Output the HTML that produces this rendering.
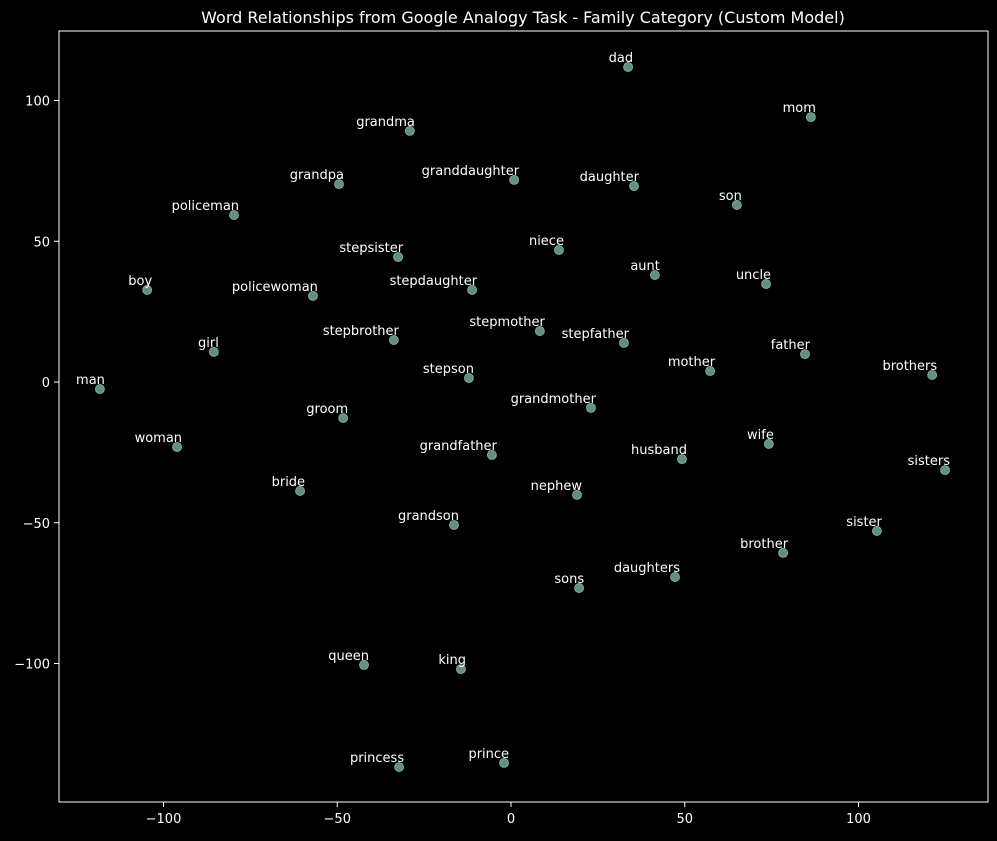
<!DOCTYPE html>
<html><head><meta charset="utf-8"><style>
html,body{margin:0;padding:0;background:#000;}
svg text{font-family:"DejaVu Sans","Liberation Sans",sans-serif;}
</style></head><body>
<svg id="chart" width="997" height="836" xmlns="http://www.w3.org/2000/svg">
<rect width="997" height="836" fill="#000"/>
<text x="523" y="23" fill="#fff" font-size="16" text-anchor="middle">Word Relationships from Google Analogy Task - Family Category (Custom Model)</text>
<g id="axes"></g>
<g id="points"></g>
<rect x="59" y="31" width="929" height="771" fill="none" stroke="#fff" stroke-width="1"/>
</svg>
<script>
const words=["dad","mom","grandma","grandpa","granddaughter","daughter","son","policeman","stepsister","niece","aunt","uncle","boy","policewoman","stepdaughter","stepmother","stepbrother","stepfather","father","girl","mother","brothers","stepson","man","grandmother","groom","wife","woman","grandfather","husband","sisters","bride","nephew","grandson","sister","brother","daughters","sons","queen","king","princess","prince"];
const xVals=[33.7,86.3,-29.1,-49.5,0.9,35.4,65.0,-79.7,-32.5,13.8,41.4,73.4,-104.7,-57.0,-11.2,8.3,-33.7,32.5,84.6,-85.5,57.3,121.2,-12.1,-118.3,23.0,-48.3,74.2,-96.1,-5.5,49.2,124.9,-60.7,19.0,-16.4,105.3,78.3,47.2,19.6,-42.3,-14.4,-32.2,-2.0];
const yVals=[111.9,94.1,89.2,70.3,71.8,69.6,62.9,59.3,44.4,46.9,38.0,34.8,32.7,30.6,32.7,18.1,14.9,13.9,9.9,10.7,3.9,2.5,1.4,-2.5,-9.2,-12.8,-22.0,-23.1,-25.9,-27.4,-31.3,-38.7,-40.1,-50.8,-52.9,-60.7,-69.3,-73.2,-100.5,-102.0,-136.8,-135.3];
const xTicks=[-100,-50,0,50,100];
const yTicks=[-100,-50,0,50,100];
const NS="http://www.w3.org/2000/svg";
function sx(v){return 511+v*3.475;}
function sy(v){return 382-v*2.815;}
const axes=document.getElementById('axes'),pts=document.getElementById('points');
function mk(tag,at,parent){const e=document.createElementNS(NS,tag);for(const k in at)e.setAttribute(k,at[k]);parent.appendChild(e);return e;}
xTicks.forEach(t=>{
  const l=mk('line',{x1:sx(t),x2:sx(t),y1:802,y2:807,stroke:'#fff'},axes);
  
  
  const tx=mk('text',{x:sx(t),y:823,fill:'#fff','font-size':13,'text-anchor':'middle'},axes);
  tx.textContent=t<0?'\u2212'+(-t):t;
  
  
});
yTicks.forEach(t=>{
  const l=mk('line',{x1:54,x2:59,y1:sy(t),y2:sy(t),stroke:'#fff'},axes);
  
  
  const tx=mk('text',{x:50,y:sy(t)+5,fill:'#fff','font-size':13,'text-anchor':'end'},axes);
  tx.textContent=t<0?'\u2212'+(-t):t;
  
  
});
words.forEach((w,i)=>{
  const cx=sx(xVals[i]),cy=sy(yVals[i]);
  const c=mk('circle',{cx:cx,cy:cy,r:4.5,fill:'#5f8f85',stroke:'#8fb3aa','stroke-width':0.8},pts);
  
  
  const t=mk('text',{x:cx+5,y:cy-5,fill:'#fff','font-size':13,'text-anchor':'end'},pts);
  t.textContent=w;
  
  
});
</script>
</body></html>
